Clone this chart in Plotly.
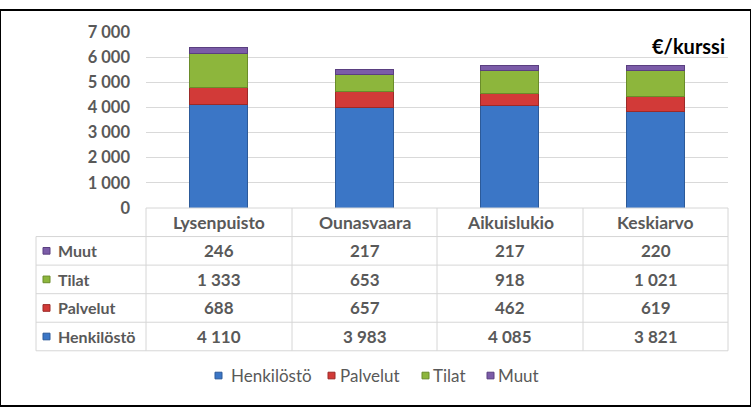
import plotly.graph_objects as go

categories = ["Lysenpuisto", "Ounasvaara", "Aikuislukio", "Keskiarvo"]
henkilosto = [4110, 3983, 4085, 3821]
palvelut = [688, 657, 462, 619]
tilat = [1333, 653, 918, 1021]
muut = [246, 217, 217, 220]
series_names = ["Henkilöstö", "Palvelut", "Tilat", "Muut"]
y_ticks = [0, 1000, 2000, 3000, 4000, 5000, 6000, 7000]
unit_label = "€/kurssi"

W, H = 751, 416
colors = ["#3b76c6", "#d23a38", "#8db63c", "#7b5ca8"]
edge = ["#2c5a99", "#9c2a28", "#6a8c2a", "#5a3f80"]
series = [henkilosto, palvelut, tilat, muut]

def px(x):
    return x / W

def py(y):
    return 1 - y / H

fig = go.Figure()
for name, vals, c, e in zip(series_names, series, colors, edge):
    fig.add_trace(go.Bar(x=categories, y=vals, name=name,
                         marker=dict(color=c, line=dict(color=e, width=1)),
                         width=0.4, showlegend=False))

x0, x1 = 146, 728
fig.update_layout(
    width=W, height=H, barmode="stack",
    margin=dict(l=0, r=0, t=0, b=0),
    paper_bgcolor="white", plot_bgcolor="white",
    separators=", ",
    font=dict(family="Lato", color="#595959"),
    xaxis=dict(domain=[px(x0), px(x1)], showticklabels=False, showgrid=False,
               zeroline=False, showline=False, fixedrange=True),
    yaxis=dict(domain=[py(208), py(23)], range=[0, 7000], tickvals=y_ticks,
               tickformat=",d", showgrid=True, gridcolor="#d9d9d9", gridwidth=1,
               zeroline=False, showline=False, ticks="",
               tickfont=dict(size=16.5, family="Lato", color="#595959", weight="bold"),
               ticklabelstandoff=15),
    showlegend=False,
)

shapes = []
ann = []
ann.append(dict(x=px(727), y=py(38), xref="paper", yref="paper", text="<b>" + unit_label + "</b>",
                showarrow=False, xanchor="right", yanchor="middle",
                font=dict(size=20, color="black", family="Lato")))

col_edges = [146, 292, 437, 583, 728]
row_edges = [208, 238, 268, 298, 328, 358]
left = 36
gc = "#d6d6d6"
shapes.append(dict(type="line", xref="paper", yref="paper", x0=px(146), x1=px(728),
                   y0=py(208), y1=py(208), line=dict(color=gc, width=1)))
for ry in row_edges[1:]:
    shapes.append(dict(type="line", xref="paper", yref="paper", x0=px(left), x1=px(728),
                       y0=py(ry), y1=py(ry), line=dict(color=gc, width=1)))
for cx in col_edges:
    shapes.append(dict(type="line", xref="paper", yref="paper", x0=px(cx), x1=px(cx),
                       y0=py(208), y1=py(358), line=dict(color=gc, width=1)))
shapes.append(dict(type="line", xref="paper", yref="paper", x0=px(left), x1=px(left),
                   y0=py(238), y1=py(358), line=dict(color=gc, width=1)))

hf = dict(size=17.5, family="Lato", color="#595959")
nf = dict(size=17, family="Lato", color="#595959")
rf = dict(size=16, family="Lato", color="#595959")
for i, cat in enumerate(categories):
    cx = (col_edges[i] + col_edges[i + 1]) / 2
    ann.append(dict(x=px(cx), y=py(223), xref="paper", yref="paper", text="<b>" + cat + "</b>",
                    showarrow=False, xanchor="center", yanchor="middle", font=hf))

order = [3, 2, 1, 0]
for r, si in enumerate(order):
    cy = (row_edges[r + 1] + row_edges[r + 2]) / 2
    shapes.append(dict(type="rect", xref="paper", yref="paper", x0=px(43), x1=px(50),
                       y0=py(cy + 3.5), y1=py(cy - 3.5), fillcolor=colors[si],
                       line=dict(color=edge[si], width=1)))
    ann.append(dict(x=px(56), y=py(cy), xref="paper", yref="paper",
                    text="<b>" + series_names[si] + "</b>", showarrow=False,
                    xanchor="left", yanchor="middle", font=rf))
    for i, v in enumerate(series[si]):
        cx = (col_edges[i] + col_edges[i + 1]) / 2
        txt = f"{v:,}".replace(",", " ")
        ann.append(dict(x=px(cx), y=py(cy), xref="paper", yref="paper",
                        text="<b>" + txt + "</b>", showarrow=False,
                        xanchor="center", yanchor="middle", font=nf))

leg_marker_x = [215, 328, 422, 487]
leg_text_x = [229, 338, 431, 496]
leg_y = 384
lf = dict(size=17, family="Lato", color="#595959")
for i, name in enumerate(series_names):
    shapes.append(dict(type="rect", xref="paper", yref="paper",
                       x0=px(leg_marker_x[i]), x1=px(leg_marker_x[i] + 7),
                       y0=py(leg_y + 3.5), y1=py(leg_y - 3.5), fillcolor=colors[i],
                       line=dict(color=edge[i], width=1)))
    ann.append(dict(x=px(leg_text_x[i]), y=py(leg_y), xref="paper", yref="paper",
                    text=name, showarrow=False, xanchor="left", yanchor="middle", font=lf))

shapes.append(dict(type="rect", xref="paper", yref="paper", x0=0, x1=1, y0=0, y1=1,
                   line=dict(color="black", width=2), fillcolor="rgba(0,0,0,0)"))

fig.update_layout(shapes=shapes, annotations=ann)
fig.write_html("out.html")
